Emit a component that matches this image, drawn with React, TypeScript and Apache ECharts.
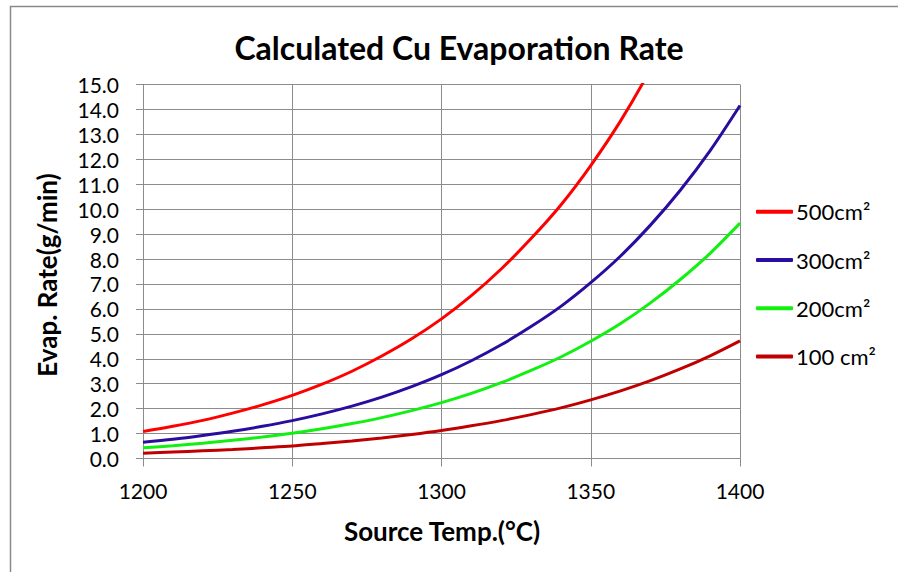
import React, { useEffect, useRef } from "react";
import * as echarts from "echarts";

const temps = [1200, 1210, 1220, 1230, 1240, 1250, 1260, 1270, 1280, 1290, 1300, 1310, 1320, 1330, 1340, 1350, 1360, 1370, 1380, 1390, 1400];
const rate500 = [1.08, 1.29, 1.53, 1.82, 2.15, 2.53, 2.98, 3.5, 4.11, 4.8, 5.6, 6.53, 7.6, 8.82, 10.17, 11.75, 13.54, 15.61, 17.94, 20.59, 23.6];
const rate300 = [0.65, 0.77, 0.92, 1.09, 1.29, 1.52, 1.79, 2.1, 2.46, 2.88, 3.36, 3.92, 4.56, 5.29, 6.1, 7.05, 8.12, 9.36, 10.76, 12.35, 14.16];
const rate200 = [0.43, 0.51, 0.61, 0.73, 0.86, 1.01, 1.19, 1.4, 1.64, 1.92, 2.24, 2.61, 3.04, 3.53, 4.07, 4.7, 5.41, 6.24, 7.18, 8.23, 9.44];
const rate100 = [0.21, 0.26, 0.31, 0.36, 0.43, 0.5, 0.6, 0.7, 0.82, 0.96, 1.12, 1.31, 1.52, 1.76, 2.03, 2.35, 2.71, 3.12, 3.59, 4.12, 4.72];

const seriesNames = ["500cm²", "300cm²", "200cm²", "100 cm²"];
const seriesColors = ["#FF0000", "#2A0C9F", "#11F011", "#C00000"];
const seriesValues = [rate500, rate300, rate200, rate100];

const titleText = "Calculated Cu Evaporation Rate";
const xTitle = "Source Temp.(°C)";
const yTitle = "Evap. Rate(g/min)";

const FONT = "Lato, 'Open Sans', sans-serif";
const GRID = "#8C8C8C";

export default function App() {
  const ref = useRef<HTMLDivElement>(null);
  useEffect(() => {
    if (!ref.current) return;
    const chart = echarts.init(ref.current, undefined, { renderer: "svg" });
    chart.setOption({
      animation: false,
      backgroundColor: "#FFFFFF",
      textStyle: { fontFamily: FONT },
      grid: { left: 143, right: 158, top: 84.5, bottom: 113.5 },
      xAxis: {
        type: "value",
        min: 1200,
        max: 1400,
        interval: 50,
        axisLine: { show: true, lineStyle: { color: GRID, width: 1 } },
        axisTick: { show: true, length: 8, lineStyle: { color: GRID } },
        axisLabel: {
          margin: 21,
          fontSize: 21,
          color: "#000",
          fontFamily: FONT,
          formatter: (v: number) => String(v),
        },
        splitLine: { show: true, lineStyle: { color: GRID, width: 1 } },
      },
      yAxis: {
        type: "value",
        min: 0,
        max: 15,
        interval: 1,
        axisLine: { show: true, lineStyle: { color: GRID, width: 1 } },
        axisTick: { show: true, length: 7, lineStyle: { color: GRID } },
        axisLabel: {
          margin: 24,
          fontSize: 21,
          color: "#000",
          fontFamily: FONT,
          formatter: (v: number) => v.toFixed(1),
        },
        splitLine: { show: true, lineStyle: { color: GRID, width: 1 } },
      },
      legend: {
        orient: "vertical",
        left: 756,
        top: 199.7,
        padding: 0,
        icon: "roundRect",
        itemWidth: 37,
        itemHeight: 4,
        itemGap: 24.3,
        textStyle: { fontSize: 22, color: "#000", fontFamily: FONT, lineHeight: 24, padding: [0, 0, 0, -2] },
        data: seriesNames,
      },
      graphic: [
        {
          type: "rect",
          shape: { x: 10.5, y: 6.5, width: 1000, height: 1000 },
          style: { fill: "none", stroke: "#8A8A8A", lineWidth: 1.5 },
          silent: true,
          z: -1,
        },
        {
          type: "text",
          x: 459,
          y: 47,
          style: {
            text: titleText,
            font: `bold 32px ${FONT}`,
            fill: "#000",
            textAlign: "center",
            textVerticalAlign: "middle",
          },
        },
        {
          type: "text",
          x: 442,
          y: 530.5,
          style: {
            text: xTitle,
            font: `bold 26px ${FONT}`,
            fill: "#000",
            textAlign: "center",
            textVerticalAlign: "middle",
          },
        },
        {
          type: "text",
          x: 47,
          y: 275,
          rotation: Math.PI / 2,
          style: {
            text: yTitle,
            font: `bold 26px ${FONT}`,
            fill: "#000",
            textAlign: "center",
            textVerticalAlign: "middle",
          },
        },
      ],
      series: seriesNames.map((name, i) => ({
        name,
        type: "line",
        data: temps.map((t, j) => [t, seriesValues[i][j]]),
        smooth: 0.3,
        symbol: "none",
        showSymbol: false,
        clip: true,
        color: seriesColors[i],
        lineStyle: { color: seriesColors[i], width: 3 },
      })),
    });
    return () => chart.dispose();
  }, []);
  return (
    <div
      ref={ref}
      style={{ position: "fixed", left: 0, top: 0, width: 898, height: 572 }}
    />
  );
}
